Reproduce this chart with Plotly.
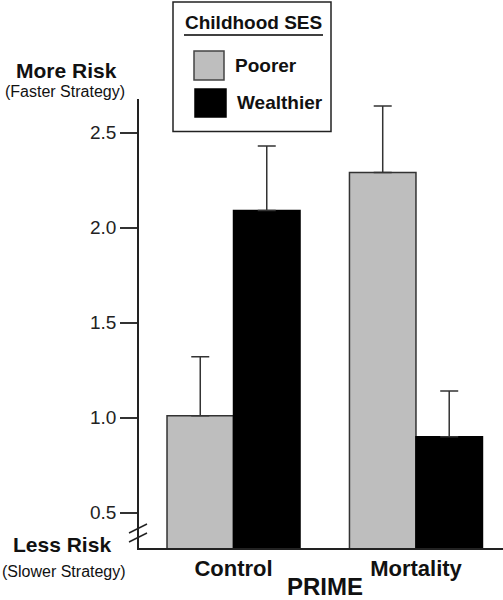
import plotly.graph_objects as go

# ---- data ----
categories = ["Control", "Mortality"]
poorer = [1.01, 2.29]
wealthier = [2.09, 0.90]
poorer_err = [0.31, 0.35]
wealthier_err = [0.34, 0.24]
ytick_vals = [0.5, 1.0, 1.5, 2.0, 2.5]
ytick_text = ["0.5", "1.0", "1.5", "2.0", "2.5"]
series_names = ["Poorer", "Wealthier"]
legend_title = "Childhood SES"
x_title = "PRIME"

# ---- layout geometry (pixels of the 503x600 page) ----
W, H = 503, 600
L, R, T, B = 139, 0, 99, 52
PW, PH = W - L - R, H - T - B
FONT = "Liberation Sans, Arial, Helvetica, sans-serif"
GRAY = "#bebebe"


def px(x):
    return (x - L) / PW


def py(y):
    return (H - B - y) / PH


fig = go.Figure()
fig.add_trace(go.Bar(
    x=categories, y=poorer, name=series_names[0],
    marker=dict(color=GRAY, line=dict(color="#333", width=1.5)),
    error_y=dict(type="data", symmetric=False, array=poorer_err,
                 arrayminus=[0] * len(poorer_err), color="#333",
                 thickness=1.5, width=9),
    showlegend=False,
))
fig.add_trace(go.Bar(
    x=categories, y=wealthier, name=series_names[1],
    marker=dict(color="black", line=dict(color="black", width=1.5)),
    error_y=dict(type="data", symmetric=False, array=wealthier_err,
                 arrayminus=[0] * len(wealthier_err), color="#333",
                 thickness=1.5, width=9),
    showlegend=False,
))

shapes = [
    # legend box
    dict(type="rect", xref="paper", yref="paper", x0=px(173), x1=px(331),
         y0=py(131.5), y1=py(2), line=dict(color="#222", width=1.5),
         fillcolor="white", layer="above"),
    # underline for legend title
    dict(type="line", xref="paper", yref="paper", x0=px(184), x1=px(323),
         y0=py(35), y1=py(35), line=dict(color="black", width=1.5)),
    # swatches
    dict(type="rect", xref="paper", yref="paper", x0=px(194), x1=px(224),
         y0=py(80), y1=py(51), line=dict(color="#444", width=1.5), fillcolor=GRAY),
    dict(type="rect", xref="paper", yref="paper", x0=px(195), x1=px(226),
         y0=py(117), y1=py(89), line=dict(color="black", width=1.5), fillcolor="black"),
    # axis break marks
    dict(type="line", xref="paper", yref="paper", x0=px(129), x1=px(147),
         y0=py(533), y1=py(524), line=dict(color="#222", width=1.5)),
    dict(type="line", xref="paper", yref="paper", x0=px(129), x1=px(147),
         y0=py(542), y1=py(533), line=dict(color="#222", width=1.5)),
]


def ann(text, x, y, size, xanchor="center"):
    return dict(text=text, xref="paper", yref="paper", x=px(x), y=py(y),
                xanchor=xanchor, yanchor="middle", showarrow=False,
                font=dict(family=FONT, size=size, color="#111"))


annotations = [
    ann("<b>%s</b>" % legend_title, 253, 23, 19),
    ann("<b>%s</b>" % series_names[0], 233, 65, 19, "left"),
    ann("<b>%s</b>" % series_names[1], 235, 103, 19, "left"),
    ann("<b>More Risk</b>", 66, 70, 21),
    ann("(Faster Strategy)", 65, 91, 16),
    ann("<b>Less Risk</b>", 62, 544, 21),
    ann("(Slower Strategy)", 64, 571, 16),
    ann("<b>%s</b>" % x_title, 325, 586, 24),
]

fig.update_layout(
    width=W, height=H,
    margin=dict(l=L, r=R, t=T, b=B, pad=0),
    paper_bgcolor="white", plot_bgcolor="white",
    barmode="group", bargap=0.271, bargroupgap=0,
    font=dict(family=FONT, color="#111"),
    shapes=shapes, annotations=annotations,
    xaxis=dict(
        type="category", range=[-0.518, 1.477],
        showline=True, linecolor="#222", linewidth=1.5,
        ticks="", showgrid=False, zeroline=False,
        tickmode="array", tickvals=categories,
        ticktext=["<b>%s</b>" % c for c in categories],
        tickfont=dict(family=FONT, size=22, color="#111"),
        fixedrange=True,
    ),
    yaxis=dict(
        range=[0.314, 2.677],
        showline=True, linecolor="#222", linewidth=1.5,
        ticks="outside", ticklen=17, tickwidth=1.5, tickcolor="#333",
        tickmode="array", tickvals=ytick_vals, ticktext=ytick_text,
        tickfont=dict(family=FONT, size=19, color="#222"),
        showgrid=False, zeroline=False, fixedrange=True,
    ),
)

fig.write_html(
    "out.html",
    config={"displayModeBar": False},
    post_script="document.body.style.margin='0';document.body.style.overflow='hidden';",
)
